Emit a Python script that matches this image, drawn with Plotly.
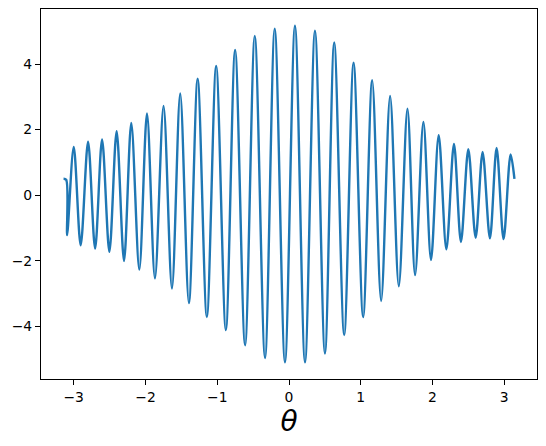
import plotly.graph_objects as go

# extrema (start, alternating troughs/peaks, end)
theta = [-3.1416, -3.105, -3.092, -3.000, -2.903, -2.800, -2.702, -2.605, -2.503, -2.402,
         -2.299, -2.198, -2.086, -1.979, -1.868, -1.748, -1.631, -1.516, -1.395, -1.273,
         -1.145, -1.015, -0.880, -0.751, -0.612, -0.477, -0.334, -0.199, -0.056, 0.083,
         0.223, 0.362, 0.501, 0.630, 0.769, 0.900, 1.033, 1.159, 1.284, 1.409,
         1.530, 1.651, 1.757, 1.873, 1.979, 2.086, 2.193, 2.299, 2.396, 2.499,
         2.601, 2.698, 2.800, 2.893, 2.990, 3.088, 3.1416]
signal = [0.50, 0.47, -1.22, 1.47, -1.53, 1.63, -1.63, 1.70, -1.73, 1.95,
          -2.01, 2.20, -2.27, 2.49, -2.54, 2.72, -2.85, 3.10, -3.29, 3.55,
          -3.72, 3.94, -4.12, 4.43, -4.58, 4.86, -4.97, 5.08, -5.10, 5.17,
          -5.10, 5.02, -4.83, 4.66, -4.27, 4.04, -3.72, 3.51, -3.23, 3.03,
          -2.78, 2.64, -2.44, 2.23, -1.98, 1.83, -1.65, 1.56, -1.43, 1.40,
          -1.30, 1.32, -1.32, 1.44, -1.34, 1.24, 0.50]

x_ticks = [-3, -2, -1, 0, 1, 2, 3]
y_ticks = [-4, -2, 0, 2, 4]

fig = go.Figure()
fig.add_trace(go.Scatter(x=theta, y=signal, mode='lines',
                         line=dict(color='#1f77b4', width=2.4, shape='spline', smoothing=0.9)))

axis_style = dict(showgrid=False, zeroline=False, showline=True, linecolor='black', linewidth=1.1,
                  mirror=True, ticks='outside', ticklen=5, tickwidth=1.1, tickcolor='black',
                  automargin=False,
                  tickfont=dict(family='DejaVu Sans', size=13.9, color='black'))

# page body has an 8px margin, so the figure is a bit smaller than the window
fig.update_layout(
    width=530, height=430,
    margin=dict(l=33, r=1, t=1, b=59),
    paper_bgcolor='white', plot_bgcolor='white',
    showlegend=False,
    xaxis=dict(range=[-3.456, 3.456], tickvals=x_ticks,
               title=dict(text='<i>θ</i>', font=dict(family='DejaVu Sans', size=28, color='black'), standoff=7),
               **axis_style),
    yaxis=dict(range=[-5.61, 5.68], tickvals=y_ticks, **axis_style),
)

fig.write_html("out.html")
